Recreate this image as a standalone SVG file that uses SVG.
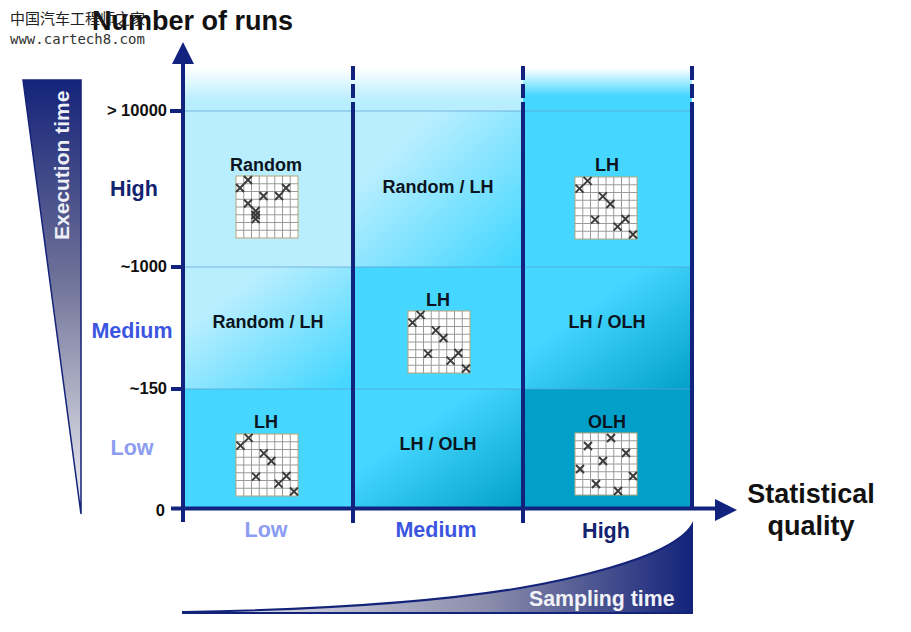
<svg xmlns="http://www.w3.org/2000/svg" width="911" height="632" viewBox="0 0 911 632">
<style>
text{font-family:"Liberation Sans",Arial,sans-serif;font-weight:700}
.c{text-anchor:middle;font-size:18px;fill:#0b1420}
.t{text-anchor:end;font-size:16.500px;fill:#111}
.big{font-size:27px;fill:#111}
.ax{font-size:21.500px;text-anchor:middle}
.navy{fill:#14236f}.mid{fill:#3b55e0}.low{fill:#8c9cf2}
.a{stroke:#12237f;stroke-width:4;fill:none}
.h{stroke:#5b9fd0;stroke-width:1;opacity:.7}
.g{stroke:#9a9a9a;stroke-width:1;fill:none}
.x{stroke:#3a3a3a;stroke-width:2;fill:none}
</style>
<defs>
<linearGradient id="fL" x1="0" y1="0" x2="0" y2="1"><stop offset="0" stop-color="#fff"/><stop offset=".75" stop-color="#b9eeff"/></linearGradient>
<linearGradient id="fM" x1="0" y1="0" x2="0" y2="1"><stop offset="0" stop-color="#fff"/><stop offset=".65" stop-color="#45d7ff"/></linearGradient>
<linearGradient id="lm" x1="0" y1="0" x2="1" y2="1"><stop offset=".25" stop-color="#b9eeff"/><stop offset=".95" stop-color="#45d7ff"/></linearGradient>
<linearGradient id="md" x1="0" y1="0" x2="1" y2="1"><stop offset=".35" stop-color="#45d7ff"/><stop offset="1" stop-color="#02a0c8"/></linearGradient>
<linearGradient id="wv" x1="0" y1="0" x2="0" y2="1"><stop offset="0" stop-color="#14237a"/><stop offset=".45" stop-color="#6d7097"/><stop offset="1" stop-color="#f2f2f4"/></linearGradient>
<linearGradient id="wh" x1="0" y1="0" x2="1" y2="0"><stop offset="0" stop-color="#f2f2f4"/><stop offset=".6" stop-color="#8a8cab"/><stop offset="1" stop-color="#14237a"/></linearGradient>
<g id="grid">
<rect x="0" y="0" width="62" height="62" fill="#fff" stroke="#b9a577"/>
<path class="g" d="M7.750 0V62M15.500 0V62M23.250 0V62M31 0V62M38.750 0V62M46.500 0V62M54.250 0V62M0 7.750H62M0 15.500H62M0 23.250H62M0 31H62M0 38.750H62M0 46.500H62M0 54.250H62"/>
</g>
<path id="x" class="x" d="M-4 -4L4 4M-4 4L4 -4"/>
<g id="lh">
<use href="#grid"/>
<use href="#x" x="4.500" y="11.600"/><use href="#x" x="12.600" y="3.900"/><use href="#x" x="27.800" y="19.400"/><use href="#x" x="35.400" y="27"/><use href="#x" x="20" y="42.600"/><use href="#x" x="50.400" y="42"/><use href="#x" x="42.600" y="49.600"/><use href="#x" x="58" y="57.500"/>
</g>
</defs>

<g id="cells">
<rect x="185" y="68" width="168" height="43" fill="url(#fL)"/>
<rect x="353" y="68" width="170" height="43" fill="url(#fL)"/>
<rect x="523" y="68" width="169" height="43" fill="url(#fM)"/>
<rect x="185" y="111" width="168" height="156" fill="#b9eeff"/>
<rect x="353" y="111" width="170" height="156" fill="url(#lm)"/>
<rect x="523" y="111" width="169" height="156" fill="#45d7ff"/>
<rect x="185" y="267" width="168" height="122" fill="url(#lm)"/>
<rect x="353" y="267" width="170" height="122" fill="#45d7ff"/>
<rect x="523" y="267" width="169" height="122" fill="url(#md)"/>
<rect x="185" y="389" width="168" height="119" fill="#45d7ff"/>
<rect x="353" y="389" width="170" height="119" fill="url(#md)"/>
<rect x="523" y="389" width="169" height="119" fill="#02a0c8"/>
<path class="h" d="M185 111H692M185 267H692M185 389H692"/>
</g>

<g id="wedge-execution">
<path d="M23 80H81V514Z" fill="url(#wv)" stroke="#14237a" stroke-width="1.500"/>
<text transform="translate(69 240) rotate(-90)" font-size="21" fill="#eef0f6">Execution time</text>
</g>
<g id="wedge-sampling">
<path d="M183 612C300 610 430 603 520 588C590 576 640 560 663 548C680 539 688 532 692 525V613H183Z" fill="url(#wh)" stroke="#14237a" stroke-width="2"/>
<text x="529" y="606" font-size="21.300" fill="#f2f3f8">Sampling time</text>
</g>

<g id="connectors">
<path class="a" d="M183 62V522M181 508.500H716"/>
<path d="M183 42L194 64H172Z M737 510L715 499V521Z" fill="#12237f"/>
<path class="a" d="M353 66V80M353 84V98M353 102V523M523 66V80M523 84V98M523 102V523M692 66V80M692 84V98M692 102V510"/>
<path class="a" d="M170 111H183M171 267H183M171 389H183M171 508.500H183"/>
</g>

<g id="axis-y">
<text class="big" x="92" y="30">Number of runs</text>
<text class="t" x="167" y="116">&gt; 10000</text>
<text class="t" x="167" y="272">~1000</text>
<text class="t" x="167" y="394">~150</text>
<text class="t" x="165" y="516">0</text>
<text class="ax navy" x="134" y="196">High</text>
<text class="ax mid" x="132" y="338">Medium</text>
<text class="ax low" x="132" y="455">Low</text>
</g>
<g id="axis-x">
<text class="ax low" x="266" y="537">Low</text>
<text class="ax mid" x="436" y="537">Medium</text>
<text class="ax navy" x="606" y="538">High</text>
<text class="big" x="811" y="503" text-anchor="middle">Statistical</text>
<text class="big" x="811" y="535" text-anchor="middle">quality</text>
</g>

<g id="node-low-low"><text class="c" x="266" y="428">LH</text><use href="#lh" x="236" y="434"/></g>
<g id="node-low-medium"><text class="c" x="268" y="328">Random / LH</text></g>
<g id="node-low-high"><text class="c" x="266" y="171">Random</text>
<use href="#grid" x="236" y="176"/>
<use href="#x" x="240" y="188"/><use href="#x" x="248" y="180"/><use href="#x" x="263.500" y="196"/><use href="#x" x="279" y="196"/><use href="#x" x="286" y="188"/><use href="#x" x="248" y="203.500"/><use href="#x" x="255.700" y="211"/><use href="#x" x="255.700" y="215"/><use href="#x" x="255.700" y="219"/>
</g>
<g id="node-medium-low"><text class="c" x="438" y="450">LH / OLH</text></g>
<g id="node-medium-medium"><text class="c" x="438" y="306">LH</text><use href="#lh" x="408" y="311"/></g>
<g id="node-medium-high"><text class="c" x="438" y="193">Random / LH</text></g>
<g id="node-high-low"><text class="c" x="607" y="428">OLH</text>
<use href="#grid" x="575" y="433"/>
<use href="#x" x="588" y="446"/><use href="#x" x="611" y="438"/><use href="#x" x="626" y="453"/><use href="#x" x="603" y="461"/><use href="#x" x="580" y="469"/><use href="#x" x="633" y="476"/><use href="#x" x="596" y="484"/><use href="#x" x="618" y="491"/>
</g>
<g id="node-high-medium"><text class="c" x="607" y="328">LH / OLH</text></g>
<g id="node-high-high"><text class="c" x="607" y="171">LH</text><use href="#lh" x="575" y="177"/></g>

<g id="watermark">
<text x="10" y="24" font-size="15" style="font-family:'Noto Sans CJK SC',sans-serif;font-weight:400" fill="#222">中国汽车工程师之家</text>
<text x="10" y="44" font-size="14" style="font-family:'DejaVu Sans Mono',monospace;font-weight:400" fill="#333">www.cartech8.com</text>
</g>
</svg>
